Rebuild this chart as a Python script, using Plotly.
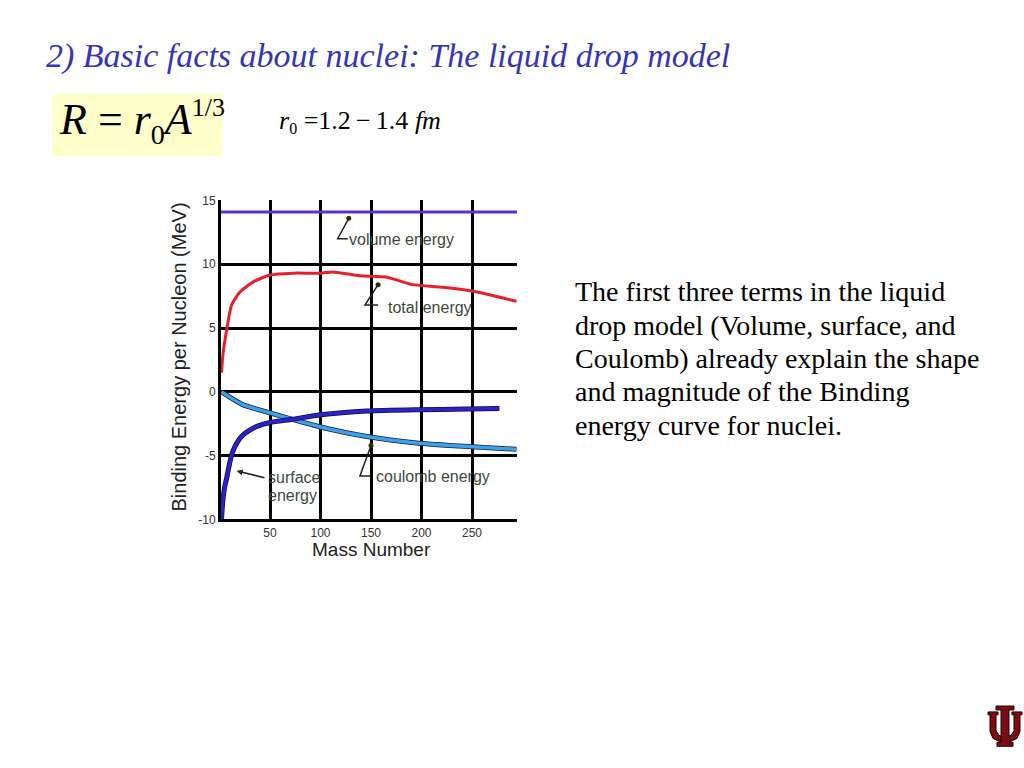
import plotly.graph_objects as go

W, H = 1024, 768

# ---- data ----
vol_A = [1.5, 294.5]
vol_E = [14.1, 14.1]

tot_A = [2, 3.5, 7, 12, 20, 33, 50, 73, 100, 112, 139, 165, 191, 221, 250, 294]
tot_E = [1.5, 3.0, 4.8, 6.8, 7.8, 8.6, 9.15, 9.3, 9.3, 9.4, 9.1, 9.0, 8.4, 8.2, 7.9, 7.1]

surf_A = [2, 3, 5, 7, 10, 13, 18, 23, 30, 37, 50, 72, 100, 146, 195, 245, 277]
surf_E = [-10, -8.8, -7.5, -6.8, -5.6, -4.7, -3.9, -3.4, -3.0, -2.7, -2.4, -2.15, -1.8, -1.5, -1.4, -1.35, -1.3]

coul_A = [2, 23, 50, 72, 100, 146, 195, 250, 294]
coul_E = [0, -1.0, -1.65, -2.15, -2.75, -3.5, -4.0, -4.3, -4.5]

x_ticks = [50, 100, 150, 200, 250]
y_ticks = [-10, -5, 0, 5, 10, 15]
y_ticktext = ["-10", "-5", "0", "5", "10", "15"]

title_text = "2) Basic facts about nuclei: The liquid drop model"
para_lines = [
    "The first three terms in the liquid",
    "drop model (Volume, surface, and",
    "Coulomb) already explain the shape",
    "and magnitude of the Binding",
    "energy curve for nuclei.",
]

# leader-line anchors (data coords): tip, corner, end of horizontal stroke
labels = [
    dict(text="volume energy", tip=(128, 13.6), corner=(117, 12.0), hend=(127, 12.0), tx=126.5, ty=11.9),
    dict(text="total energy", tip=(157, 8.4), corner=(144, 6.8), hend=(157, 6.8), tx=165, ty=6.6),
    dict(text="coulomb energy", tip=(150, -4.2), corner=(139, -6.6), hend=(149, -6.6), tx=152.5, ty=-6.6),
]
surf_label_lines = [("surface", -6.7), ("energy", -8.15)]

def px(x):
    return x / W

def py(y):
    return 1 - y / H

fig = go.Figure()

fig.add_trace(go.Scatter(x=vol_A, y=vol_E, mode="lines",
                         line=dict(color="#5a2ed8", width=3), hoverinfo="skip"))
fig.add_trace(go.Scatter(x=tot_A, y=tot_E, mode="lines",
                         line=dict(color="#e8202c", width=3, shape="spline", smoothing=0.6), hoverinfo="skip"))
fig.add_trace(go.Scatter(x=coul_A, y=coul_E, mode="lines",
                         line=dict(color="#1a1a40", width=5, shape="spline", smoothing=0.6), hoverinfo="skip"))
fig.add_trace(go.Scatter(x=coul_A, y=coul_E, mode="lines",
                         line=dict(color="#3aa2ea", width=3.5, shape="spline", smoothing=0.6), hoverinfo="skip"))
fig.add_trace(go.Scatter(x=surf_A, y=surf_E, mode="lines",
                         line=dict(color="#101040", width=5, shape="spline", smoothing=0.6), hoverinfo="skip"))
fig.add_trace(go.Scatter(x=surf_A, y=surf_E, mode="lines",
                         line=dict(color="#2a22cc", width=3.5, shape="spline", smoothing=0.6), hoverinfo="skip"))

shapes = []
annotations = []
lab_color = "#3c4a3c"
lab_font = dict(family="Liberation Sans", size=16, color=lab_color)
for lb in labels:
    tx_, ty_ = lb["tip"]
    cx, cy = lb["corner"]
    hx, hy = lb["hend"]
    shapes.append(dict(type="path", xref="x", yref="y",
                       path=f"M {hx},{hy} L {cx},{cy} L {tx_},{ty_}",
                       line=dict(color="#222222", width=1.5)))
    fig.add_trace(go.Scatter(x=[tx_], y=[ty_], mode="markers",
                             marker=dict(color="#333300", size=5), hoverinfo="skip"))
    annotations.append(dict(x=lb["tx"], y=lb["ty"], xref="x", yref="y", text=lb["text"],
                            showarrow=False, xanchor="left", yanchor="middle", font=lab_font))

# surface energy label with arrow
annotations.append(dict(x=17, y=-6.2, xref="x", yref="y", ax=46, ay=-6.75, axref="x", ayref="y",
                        text="", showarrow=True, arrowhead=2, arrowsize=0.8, arrowwidth=1.5,
                        arrowcolor="#222222"))
for t, yy in surf_label_lines:
    annotations.append(dict(x=46, y=yy, xref="x", yref="y", text=t,
                            showarrow=False, xanchor="left", yanchor="middle", font=lab_font))

# axis titles
annotations.append(dict(x=px(371), y=py(553), xref="paper", yref="paper", text="Mass Number",
                        xanchor="center", yanchor="middle",
                        showarrow=False, font=dict(family="Liberation Sans", size=19, color="#222222")))
annotations.append(dict(x=px(179), y=py(357), xref="paper", yref="paper",
                        text="Binding Energy per Nucleon (MeV)", textangle=-90,
                        xanchor="center", yanchor="middle",
                        showarrow=False, font=dict(family="Liberation Sans", size=20, color="#222222")))

# slide title
annotations.append(dict(x=px(44), y=py(50), xref="paper", yref="paper", text=f"<i>{title_text}</i>",
                        showarrow=False, xanchor="left", yanchor="middle",
                        font=dict(family="Liberation Serif", size=34, color="#3535b8")))

# formula box
shapes.append(dict(type="rect", xref="paper", yref="paper", x0=px(52), x1=px(222), y0=py(152), y1=py(88),
                   fillcolor="#ffffcc", line=dict(width=0), layer="below"))
annotations.append(dict(x=px(57), y=py(117), xref="paper", yref="paper",
                        text=("<i>R</i> = <i>r</i><sub><span style='font-size:28px'>0</span></sub>"
                              "<i>A</i><sup><span style='font-size:26px'>1/3</span></sup>"),
                        showarrow=False, xanchor="left", yanchor="middle",
                        font=dict(family="Liberation Serif", size=44, color="#000000")))
annotations.append(dict(x=px(277), y=py(117), xref="paper", yref="paper",
                        text=("<i>r</i><sub><span style='font-size:16px'>0</span></sub> =1.2\u2009\u2212\u20091.4 <i>fm</i>"),
                        showarrow=False, xanchor="left", yanchor="middle",
                        font=dict(family="Liberation Serif", size=26, color="#000000")))

# paragraph
for i, line in enumerate(para_lines):
    annotations.append(dict(x=px(573), y=py(290 + 34 * i), xref="paper", yref="paper", text=line,
                            showarrow=False, xanchor="left", yanchor="middle",
                            font=dict(family="Liberation Serif", size=28, color="#000000")))

# IU logo
def ppath(pts):
    s = "M " + " L ".join(f"{px(a):.5f},{py(b):.5f}" for a, b in pts) + " Z"
    return s

u_outer = [(988, 718), (998, 718), (998, 721), (996, 721), (996, 737), (999, 742), (1005, 743),
           (1011, 742), (1014, 737), (1014, 721), (1012, 721), (1012, 718), (1022, 718),
           (1022, 721), (1020, 721), (1020, 738), (1017, 745), (1011, 748), (999, 748),
           (993, 745), (990, 738), (990, 721), (988, 721)]
i_bar = [(996, 712), (1014, 712), (1014, 716), (1009, 716), (1009, 749), (1013, 749), (1013, 753),
         (997, 753), (997, 749), (1001, 749), (1001, 716), (996, 716)]
for pts in (u_outer, i_bar):
    shapes.append(dict(type="path", xref="paper", yref="paper", path=ppath(pts),
                       fillcolor="#7d0c14", line=dict(color="#200000", width=1)))

fig.update_layout(
    width=W, height=H,
    margin=dict(l=0, r=0, t=0, b=0),
    paper_bgcolor="white", plot_bgcolor="white",
    showlegend=False,
    shapes=shapes, annotations=annotations,
    xaxis=dict(domain=[px(221), px(517)], range=[1.5, 294.5], tickvals=x_ticks,
               showgrid=True, gridcolor="#000000", gridwidth=2.5,
               showline=True, linecolor="#000000", linewidth=2.5,
               zeroline=False, ticks="", fixedrange=True,
               tickfont=dict(family="Liberation Sans", size=12, color="#333333")),
    yaxis=dict(domain=[py(522), py(197)], range=[-10, 15], tickvals=y_ticks, ticktext=y_ticktext,
               showgrid=True, gridcolor="#000000", gridwidth=2.5,
               showline=True, linecolor="#000000", linewidth=3,
               zeroline=False, ticks="", fixedrange=True,
               tickfont=dict(family="Liberation Sans", size=12, color="#333333")),
)

fig.write_html("out.html", config={"displayModeBar": False},
               post_script="document.body.style.margin='0';document.body.style.overflow='hidden';")
